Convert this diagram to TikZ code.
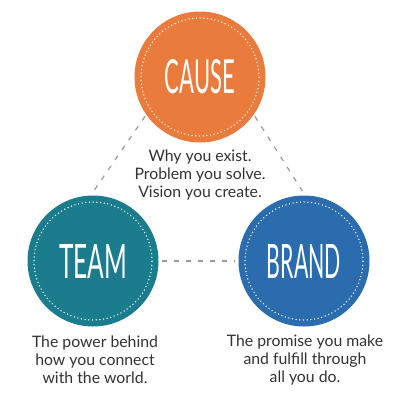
\documentclass[tikz,border=0pt]{standalone}
\usepackage{fontspec}
\setmainfont{Lato}
\usepackage{graphicx}
\definecolor{causeorange}{HTML}{E97B3C}
\definecolor{teamteal}{HTML}{1A7C8C}
\definecolor{brandblue}{HTML}{2B6CAE}
\definecolor{dashgray}{HTML}{9A9A9A}
\definecolor{txtgray}{HTML}{333333}
\tikzset{
  bigcircle/.style={circle, minimum size=131pt, inner sep=0pt, text=white},
  ringdots/.style={white, line width=1.5pt, line cap=round, dash pattern=on 0pt off 3.7pt},
  linkline/.style={dashgray, line width=1.2pt, dash pattern=on 5pt off 7pt},
  desc/.style={align=center, text=txtgray, font=\fontsize{15.8}{17.8}\selectfont, inner sep=0pt}
}
\begin{document}
\begin{tikzpicture}[x=1pt,y=-1pt]
\useasboundingbox (0,0) rectangle (400,400);
\fill[white] (0,0) rectangle (400,400);
% circles
\node[bigcircle, fill=causeorange] (cause) at (200,77) {\resizebox{70pt}{34pt}{CAUSE}};
\node[bigcircle, fill=teamteal] (team) at (93,261) {\resizebox{68pt}{34pt}{TEAM}};
\node[bigcircle, fill=brandblue] (brand) at (304,261) {\resizebox{74pt}{34pt}{BRAND}};
% dotted rings
\draw[ringdots] (cause.center) circle (59pt);
\draw[ringdots] (team.center) circle (59pt);
\draw[ringdots] (brand.center) circle (59pt);
% connectors
\draw[linkline, shorten <=2pt, shorten >=5pt] (cause.215) -- (team.92);
\draw[linkline, shorten <=2pt, shorten >=5pt] (cause.325) -- (brand.89);
\draw[linkline, shorten <=3pt, shorten >=3pt] (team.0) -- (brand.180);
% descriptions
\node[desc] (causetext) at (200,175) {Why you exist.\\Problem you solve.\\Vision you create.};
\node[desc] (teamtext) at (95,360) {The power behind\\how you connect\\with the world.};
\node[desc] (brandtext) at (305,360) {The promise you make\\and fulfill through\\all you do.};
\end{tikzpicture}
\end{document}
